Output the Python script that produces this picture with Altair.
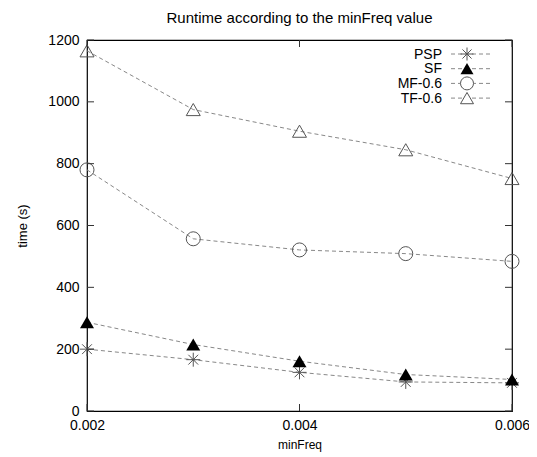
import altair as alt
import pandas as pd

chart_title = "Runtime according to the minFreq value"
x_title = "minFreq"
y_title = "time (s)"

min_freq = [0.002, 0.003, 0.004, 0.005, 0.006]
psp = [200, 166, 125, 94, 91]
sf = [287, 215, 161, 118, 102]
mf = [780, 557, 521, 509, 484]
tf = [1165, 975, 905, 845, 752]
series_names = ["PSP", "SF", "MF-0.6", "TF-0.6"]

x_ticks = [0.002, 0.004, 0.006]
y_ticks = [0, 200, 400, 600, 800, 1000, 1200]

W, H = 425, 371
FONT = "Liberation Sans"

values = {"PSP": psp, "SF": sf, "MF-0.6": mf, "TF-0.6": tf}
rows = []
for name in series_names:
    for xv, yv in zip(min_freq, values[name]):
        rows.append({"minFreq": xv, "time": yv, "series": name})
df = pd.DataFrame(rows)

xscale = alt.Scale(domain=[0.002, 0.006], nice=False, zero=False)
yscale = alt.Scale(domain=[0, 1200], nice=False)

x_axis = alt.Axis(values=x_ticks, format=".3f", title=x_title, labelFlush=False,
                  titlePadding=7, labelPadding=7)
y_axis = alt.Axis(values=y_ticks, format="d", title=y_title, labelFlush=False,
                  titlePadding=18, labelPadding=8)


def xe():
    return alt.X("minFreq:Q", scale=xscale, axis=x_axis)


def ye():
    return alt.Y("time:Q", scale=yscale, axis=y_axis)


asterisk = "M-1,0L1,0M0,-1L0,1M-0.7,-0.7L0.7,0.7M-0.7,0.7L0.7,-0.7"
styles = {
    "PSP": dict(shape=asterisk, filled=False, stroke="#555555"),
    "SF": dict(shape="triangle-up", filled=True, stroke="#000000"),
    "MF-0.6": dict(shape="circle", filled=False, stroke="#555555"),
    "TF-0.6": dict(shape="triangle-up", filled=False, stroke="#555555"),
}

line_color = "#888888"
dash = [4, 3]

lines = alt.Chart(df).mark_line(color=line_color, strokeDash=dash, strokeWidth=1).encode(
    x=xe(), y=ye(), detail="series:N")

layers = [lines]
for name in series_names:
    st = styles[name]
    kw = dict(shape=st["shape"], size=196, strokeWidth=1, opacity=1,
              filled=st["filled"], color=st["stroke"])
    pts = alt.Chart(df[df["series"] == name]).mark_point(**kw).encode(x=xe(), y=ye())
    layers.append(pts)

# inward ticks (mirrored on all four sides)
xt = pd.DataFrame({"minFreq": x_ticks})
yt = pd.DataFrame({"time": y_ticks})
tick_len = 7
tick_color = "#333333"
xb = alt.Chart(xt).mark_rule(color=tick_color, strokeWidth=1).encode(
    x=xe(), y=alt.value(H), y2=alt.value(H - tick_len))
xtp = alt.Chart(xt).mark_rule(color=tick_color, strokeWidth=1).encode(
    x=xe(), y=alt.value(0), y2=alt.value(tick_len))
yl = alt.Chart(yt).mark_rule(color=tick_color, strokeWidth=1).encode(
    y=ye(), x=alt.value(0), x2=alt.value(tick_len))
yr = alt.Chart(yt).mark_rule(color=tick_color, strokeWidth=1).encode(
    y=ye(), x=alt.value(W - tick_len), x2=alt.value(W))
layers += [xb, xtp, yl, yr]

# legend (top-right, inside the plot)
leg_df = pd.DataFrame({"series": series_names})
for i, name in enumerate(series_names):
    ypos = 14 + 14.7 * i
    st = styles[name]
    d = leg_df[leg_df["series"] == name]
    txt = alt.Chart(d).mark_text(align="right", baseline="middle", fontSize=14,
                                 font=FONT, color="#000000").encode(
        x=alt.value(W - 70), y=alt.value(ypos + 0.5), text="series:N")
    rl = alt.Chart(d).mark_rule(color=line_color, strokeDash=dash, strokeWidth=1).encode(
        x=alt.value(W - 61), x2=alt.value(W - 21), y=alt.value(ypos))
    kw = dict(shape=st["shape"], size=169, strokeWidth=1, opacity=1)
    if st["filled"]:
        kw.update(filled=True, color=st["stroke"])
    else:
        kw.update(filled=False, color=st["stroke"], fill="white", fillOpacity=1)
    pt = alt.Chart(d).mark_point(**kw).encode(x=alt.value(W - 45), y=alt.value(ypos))
    layers += [txt, rl, pt]

chart = alt.layer(*layers).properties(
    width=W, height=H,
    title=alt.TitleParams(chart_title, fontSize=15, font=FONT, fontWeight="normal",
                          anchor="middle", offset=7, color="#000000"),
    autosize=alt.AutoSizeParams(type="none"),
    padding={"left": 79, "top": 32, "right": 17, "bottom": 45},
).configure_view(
    stroke="#000000", strokeWidth=1.2
).configure_axis(
    ticks=False, domain=False, grid=False,
    labelFont=FONT, labelFontSize=14, labelColor="#000000",
    titleFont=FONT, titleFontSize=13, titleFontWeight="normal", titleColor="#000000",
).configure_axisX(titleFontSize=12)

chart.save("out.html", embed_options={"renderer": "svg", "actions": False})
